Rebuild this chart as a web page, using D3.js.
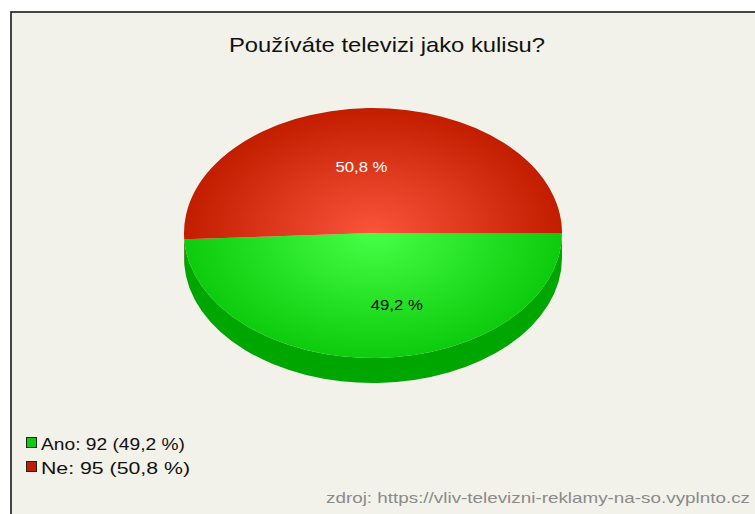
<!DOCTYPE html>
<html>
<head>
<meta charset="utf-8">
<script src="https://cdn.jsdelivr.net/npm/d3@7"></script>
<style>
  html, body { margin: 0; padding: 0; background: #ffffff; }
  svg { display: block; font-family: "Liberation Sans", Arial, sans-serif; }
</style>
</head>
<body>
<svg id="chart" width="755" height="514"></svg>
<script>
// Survey answers
const categories = ["Ano", "Ne"];
const values = [92, 95];
const topColors = [["#46ff46", "#0dcb0d"], ["#fa553b", "#c31d00"]];
const sideColors = ["#00a600", "#a41800"];
const labelColors = ["#000000", "#ffffff"];
const title = "Používáte televizi jako kulisu?";
const source = "zdroj: https://vliv-televizni-reklamy-na-so.vyplnto.cz";

const W = 755, H = 514;
const svg = d3.select("#chart");

// frame
svg.append("rect").attr("x", 11).attr("y", 12).attr("width", W + 20).attr("height", H + 20)
  .attr("fill", "#f3f2ea").attr("stroke", "#1a1a1a").attr("stroke-width", 1.6);

// wide, slightly stretched lettering
function wideText(sel, len) {
  return sel.attr("textLength", len).attr("lengthAdjust", "spacingAndGlyphs");
}

wideText(svg.append("text").attr("x", 387).attr("y", 52).attr("text-anchor", "middle")
  .attr("font-size", 21).attr("fill", "#111").text(title), 316);

// 3D pie geometry
const cx = 373, cy = 233, rx = 189, ry = 125, depth = 25;
const total = d3.sum(values);
const pct = v => (v / total * 100).toFixed(1).replace(".", ",") + " %";

const pie = d3.pie().sort(null).startAngle(Math.PI / 2).endAngle(Math.PI / 2 + 2 * Math.PI);
const arcs = pie(values);

const pt = (a, dy = 0) => [cx + rx * Math.sin(a), cy - ry * Math.cos(a) + dy];

const defs = svg.append("defs");
arcs.forEach((d, i) => {
  const g = defs.append("radialGradient").attr("id", "grad" + i)
    .attr("gradientUnits", "userSpaceOnUse")
    .attr("cx", cx).attr("cy", cy).attr("r", rx)
    .attr("gradientTransform", `translate(${cx},${cy}) scale(1,${ry / rx}) translate(${-cx},${-cy})`);
  g.append("stop").attr("offset", "0%").attr("stop-color", topColors[i][0]);
  g.append("stop").attr("offset", "100%").attr("stop-color", topColors[i][1]);
});

// sides: only the front half (east -> south -> west) is visible
const frontLo = Math.PI / 2, frontHi = 3 * Math.PI / 2;
arcs.forEach((d, i) => {
  const ranges = [[d.startAngle, d.endAngle], [d.startAngle - 2 * Math.PI, d.endAngle - 2 * Math.PI]];
  ranges.forEach(([s, e]) => {
    const a0 = Math.max(s, frontLo), a1 = Math.min(e, frontHi);
    if (a1 <= a0) return;
    const p0 = pt(a0), p1 = pt(a1), q0 = pt(a0, depth), q1 = pt(a1, depth);
    const large = (a1 - a0) > Math.PI ? 1 : 0;
    const path = `M${p0}A${rx},${ry} 0 ${large} 1 ${p1}L${q1}A${rx},${ry} 0 ${large} 0 ${q0}Z`;
    svg.append("path").attr("d", path).attr("fill", sideColors[i]);
  });
});

// top faces
arcs.forEach((d, i) => {
  const p0 = pt(d.startAngle), p1 = pt(d.endAngle);
  const large = (d.endAngle - d.startAngle) > Math.PI ? 1 : 0;
  svg.append("path")
    .attr("d", `M${cx},${cy}L${p0}A${rx},${ry} 0 ${large} 1 ${p1}Z`)
    .attr("fill", `url(#grad${i})`);
});

// value labels
const labelOffsets = [[21, 0], [-9, 0]];
arcs.forEach((d, i) => {
  const mid = (d.startAngle + d.endAngle) / 2;
  const k = i === 0 ? 0.58 : 0.53;
  const x = cx + rx * k * Math.sin(mid) + labelOffsets[i][0];
  const y = cy - ry * k * Math.cos(mid) + labelOffsets[i][1];
  wideText(svg.append("text").attr("x", x).attr("y", y).attr("dy", "0.35em")
    .attr("text-anchor", "middle").attr("font-size", 14)
    .attr("fill", labelColors[i]).text(pct(values[i])), 52);
});

// legend
categories.forEach((c, i) => {
  const y = 444 + i * 24;
  svg.append("rect").attr("x", 26.5).attr("y", y - 6.5).attr("width", 10).attr("height", 10)
    .attr("fill", topColors[i][1]).attr("stroke", "#222").attr("stroke-width", 1);
  const label = `${c}: ${values[i]} (${pct(values[i])})`;
  wideText(svg.append("text").attr("x", 41).attr("y", y).attr("dy", "0.36em")
    .attr("font-size", 17).attr("fill", "#111").text(label), i === 0 ? 144 : 149);
});

wideText(svg.append("text").attr("x", 326).attr("y", 503)
  .attr("font-size", 15).attr("fill", "#8a8a8a").text(source), 424);
</script>
</body>
</html>
